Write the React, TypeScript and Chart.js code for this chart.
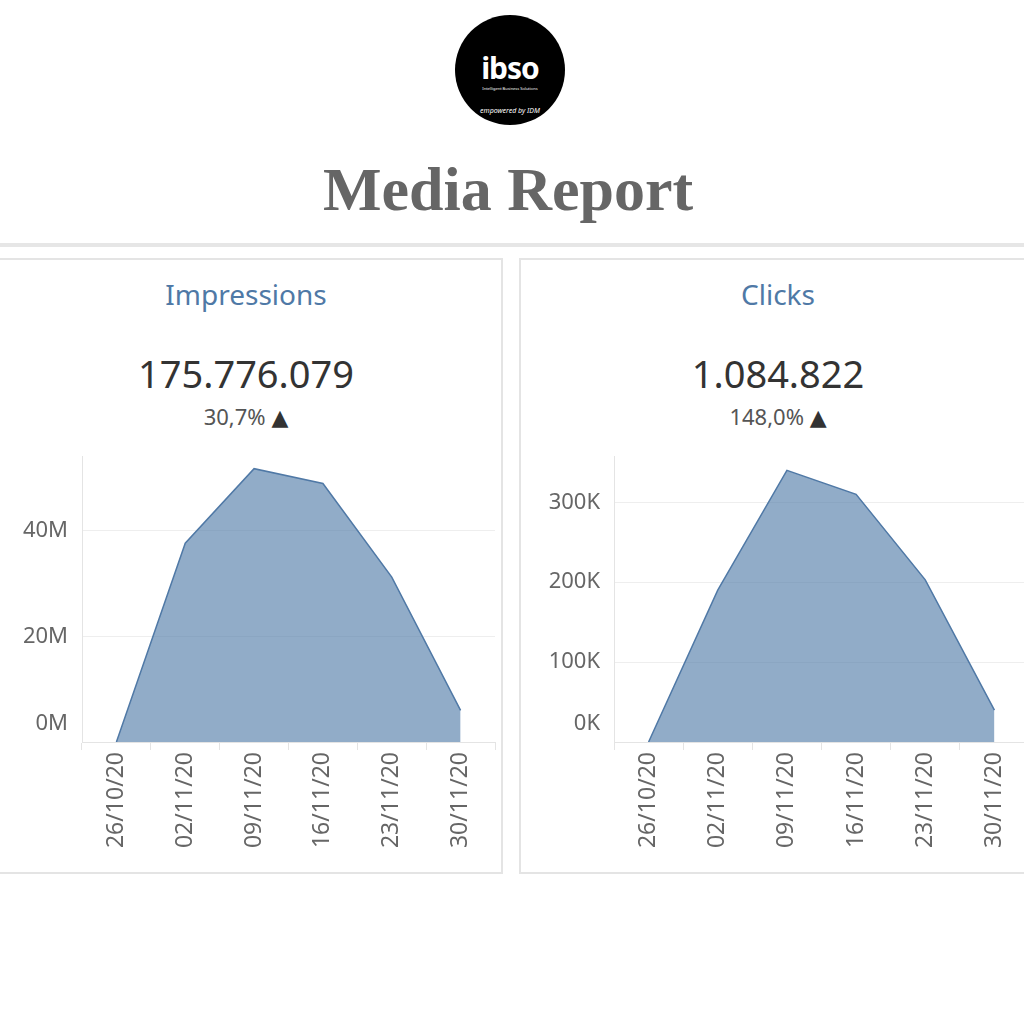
import React, { useEffect, useRef } from "react";
import { Chart, registerables } from "chart.js";

Chart.register(...registerables);

// ---- data ----
const weeks = ["26/10/20", "02/11/20", "09/11/20", "16/11/20", "23/11/20", "30/11/20"];
const impressions = [0, 37.6e6, 51.7e6, 48.9e6, 31.2e6, 6.0e6];
const clicks = [0, 190000, 340000, 310000, 203000, 40000];
const impressionTickValues = [0, 20e6, 40e6];
const impressionTickLabels = ["0M", "20M", "40M"];
const clickTickValues = [0, 100000, 200000, 300000];
const clickTickLabels = ["0K", "100K", "200K", "300K"];

const FONT = '"Noto Sans", "DejaVu Sans", sans-serif';
const TICK_COLOR = "#666666";
const LINE_COLOR = "#e4e4e4";

type AreaProps = {
  left: number;
  top: number;
  width: number;
  height: number;
  values: number[];
  yMax: number;
  tickValues: number[];
  tickLabels: string[];
  yAxisWidth: number;
  padRight: number;
  padTop: number;
  xAxisHeight: number;
};

function AreaChart(p: AreaProps) {
  const ref = useRef<HTMLCanvasElement | null>(null);
  useEffect(() => {
    if (!ref.current) return;
    const zeroLabel = {
      id: "zeroLabel",
      afterDraw(chart: any) {
        const y = chart.scales.y;
        const ctx = chart.ctx;
        ctx.save();
        ctx.font = `22px ${FONT}`;
        ctx.fillStyle = TICK_COLOR;
        ctx.textAlign = "right";
        ctx.textBaseline = "middle";
        ctx.fillText(p.tickLabels[0], y.right - 14, y.getPixelForValue(p.tickValues[0]) - 18);
        ctx.restore();
      },
    };
    const chart = new Chart(ref.current, {
      type: "line",
      data: {
        labels: weeks,
        datasets: [
          {
            data: p.values,
            borderColor: "#5079a6",
            borderWidth: 1.5,
            backgroundColor: "rgba(78,121,167,0.62)",
            fill: "origin",
            tension: 0,
            pointRadius: 0,
          },
        ],
      },
      options: {
        animation: false,
        responsive: false,
        maintainAspectRatio: false,
        layout: { padding: { left: 0, right: p.padRight, top: p.padTop, bottom: 0 } },
        plugins: { legend: { display: false }, tooltip: { enabled: false } },
        scales: {
          x: {
            type: "category",
            offset: true,
            afterFit: (s: any) => {
              s.height = p.xAxisHeight;
              s.paddingLeft = 0;
              s.paddingRight = 0;
            },
            grid: {
              offset: true,
              drawOnChartArea: false,
              drawTicks: true,
              tickLength: 8,
              color: LINE_COLOR,
            },
            border: { display: true, color: LINE_COLOR },
            ticks: {
              autoSkip: false,
              minRotation: 90,
              maxRotation: 90,
              padding: 2,
              color: TICK_COLOR,
              font: { family: FONT, size: 23 },
            },
          },
          y: {
            min: 0,
            max: p.yMax,
            afterFit: (s: any) => {
              s.width = p.yAxisWidth;
              s.paddingTop = 0;
              s.paddingBottom = 0;
            },
            afterBuildTicks: (s: any) => {
              s.ticks = p.tickValues.map((v) => ({ value: v }));
            },
            grid: { drawTicks: false, color: "#eeeeee" },
            border: { display: true, color: LINE_COLOR },
            ticks: {
              padding: 14,
              color: (c: any) => (c.tick && c.tick.value === p.tickValues[0] ? "rgba(0,0,0,0)" : TICK_COLOR),
              font: { family: FONT, size: 22 },
              callback: (v: any) => {
                const i = p.tickValues.indexOf(Number(v));
                return i >= 0 ? p.tickLabels[i] : "";
              },
            },
          },
        },
      },
      plugins: [zeroLabel],
    });
    return () => chart.destroy();
  }, []);
  return (
    <canvas
      ref={ref}
      width={p.width}
      height={p.height}
      style={{ position: "absolute", left: p.left, top: p.top, width: p.width, height: p.height }}
    />
  );
}

const abs = (s: React.CSSProperties): React.CSSProperties => ({ position: "absolute", ...s });

function KpiHeader(props: { cx: number; title: string; value: string; change: string }) {
  const w = 400;
  return (
    <>
      <div
        style={abs({
          left: props.cx - w / 2,
          top: 280,
          width: w,
          textAlign: "center",
          fontFamily: FONT,
          fontSize: 28,
          lineHeight: 1,
          color: "#4f79a6",
        })}
      >
        {props.title}
      </div>
      <div
        style={abs({
          left: props.cx - w / 2,
          top: 354,
          width: w,
          textAlign: "center",
          fontFamily: FONT,
          fontSize: 38,
          lineHeight: 1,
          color: "#333333",
        })}
      >
        {props.value}
      </div>
      <div
        style={abs({
          left: props.cx - w / 2,
          top: 405,
          width: w,
          textAlign: "center",
          fontFamily: FONT,
          fontSize: 22,
          lineHeight: 1,
          color: "#555555",
        })}
      >
        {props.change} <span style={{ color: "#333333" }}>▲</span>
      </div>
    </>
  );
}

export default function App() {
  return (
    <div
      style={{
        position: "fixed",
        left: 0,
        top: 0,
        width: 1024,
        height: 1024,
        overflow: "hidden",
        background: "#ffffff",
      }}
    >
      {/* logo */}
      <div
        style={abs({
          left: 455,
          top: 15,
          width: 110,
          height: 110,
          borderRadius: "50%",
          background: "#000000",
          color: "#ffffff",
          textAlign: "center",
          fontFamily: FONT,
        })}
      >
        <div style={abs({ left: 0, top: 38, width: 110, fontSize: 30, fontWeight: 700, lineHeight: 1, letterSpacing: -1 })}>
          ibso
        </div>
        <div style={abs({ left: 0, top: 72, width: 110, fontSize: 4, lineHeight: 1 })}>Intelligent Business Solutions</div>
        <div style={abs({ left: 0, top: 92, width: 110, fontSize: 7, fontStyle: "italic", lineHeight: 1 })}>
          empowered by IDM
        </div>
      </div>

      {/* title */}
      <div
        style={abs({
          left: 208,
          top: 158,
          width: 600,
          textAlign: "center",
          fontFamily: '"Liberation Serif", "Times New Roman", serif',
          fontWeight: 700,
          fontSize: 62,
          lineHeight: 1,
          color: "#666666",
        })}
      >
        Media Report
      </div>

      {/* separator */}
      <div style={abs({ left: 0, top: 243, width: 1024, height: 4, background: "#e6e6e6" })} />

      {/* panels */}
      <div
        style={abs({
          left: -10,
          top: 258,
          width: 513,
          height: 616,
          border: `2px solid ${LINE_COLOR}`,
          boxSizing: "border-box",
        })}
      />
      <div
        style={abs({
          left: 519,
          top: 258,
          width: 600,
          height: 616,
          border: `2px solid ${LINE_COLOR}`,
          boxSizing: "border-box",
        })}
      />

      <KpiHeader cx={246} title="Impressions" value="175.776.079" change="30,7%" />
      <KpiHeader cx={778} title="Clicks" value="1.084.822" change="148,0%" />

      <AreaChart
        left={0}
        top={440}
        width={510}
        height={430}
        values={impressions}
        yMax={54.1e6}
        tickValues={impressionTickValues}
        tickLabels={impressionTickLabels}
        yAxisWidth={82}
        padRight={15}
        padTop={16}
        xAxisHeight={128}
      />
      <AreaChart
        left={530}
        top={440}
        width={515}
        height={430}
        values={clicks}
        yMax={358000}
        tickValues={clickTickValues}
        tickLabels={clickTickLabels}
        yAxisWidth={84}
        padRight={16}
        padTop={16}
        xAxisHeight={128}
      />
    </div>
  );
}
